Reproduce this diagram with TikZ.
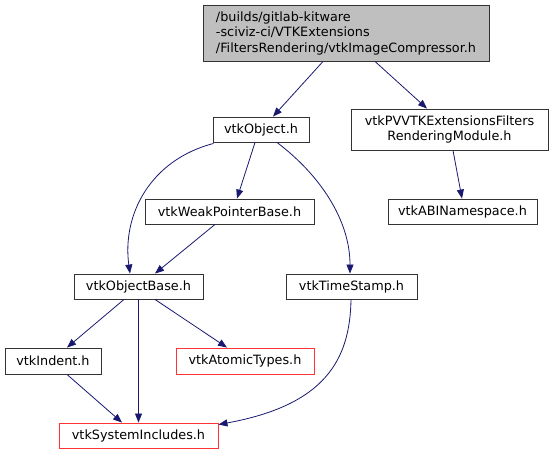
\documentclass[tikz,border=0pt]{standalone}
\usepackage{fontspec}
\setmainfont{DejaVu Sans}
\usetikzlibrary{arrows.meta}
\definecolor{edgeblue}{HTML}{191970}
\definecolor{redborder}{HTML}{FF3333}
\definecolor{topfill}{HTML}{BFBFBF}
\begin{document}
\begin{tikzpicture}[x=1pt,y=-1pt,
  box/.style={draw=black!80, line width=0.9pt, rectangle, inner sep=0pt, font=\fontsize{12.8}{15.5}\selectfont, align=center},
  redbox/.style={box, draw=redborder},
  edge/.style={draw=edgeblue, line width=0.8pt, -{Triangle[length=9pt,width=7pt]}}]
\useasboundingbox (0,0) rectangle (553,455);
\node[box, fill=topfill, align=left, minimum width=286pt, minimum height=56pt] (top) at (346,33) {/builds/gitlab-kitware\\-sciviz-ci/VTKExtensions\\/FiltersRendering/vtkImageCompressor.h};
\node[box, minimum width=96pt, minimum height=25pt] (obj) at (261,129.5) {vtkObject.h};
\node[box, minimum width=197pt, minimum height=41pt] (pv) at (449.5,129.5) {vtkPVVTKExtensionsFilters\\RenderingModule.h};
\node[box, minimum width=169pt, minimum height=25pt] (weak) at (229.5,211.5) {vtkWeakPointerBase.h};
\node[box, minimum width=149pt, minimum height=25pt] (abi) at (462.5,211.5) {vtkABINamespace.h};
\node[box, minimum width=129pt, minimum height=25pt] (ob) at (138.5,286.5) {vtkObjectBase.h};
\node[box, minimum width=131pt, minimum height=25pt] (ts) at (351.5,286.5) {vtkTimeStamp.h};
\node[box, minimum width=96pt, minimum height=26pt] (ind) at (53,361) {vtkIndent.h};
\node[redbox, minimum width=138pt, minimum height=26pt] (atom) at (245,361) {vtkAtomicTypes.h};
\node[redbox, minimum width=159pt, minimum height=25pt] (sys) at (138.5,435.5) {vtkSystemIncludes.h};

\draw[edge] ([xshift=-23pt]top.south) -- ([xshift=12pt]obj.north);
\draw[edge] ([xshift=29pt]top.south) -- ([xshift=-22.5pt]pv.north);
\draw[edge] ([xshift=-6pt]obj.south) -- ([xshift=7.5pt]weak.north);
\draw[edge] ([xshift=1pt,yshift=-1pt]obj.south west) .. controls (150,160) and (122,215) .. ([xshift=-8.5pt]ob.north);
\draw[edge] ([xshift=16pt]obj.south) .. controls (320,175) and (350,220) .. ([xshift=-1.5pt]ts.north);
\draw[edge] ([xshift=-14.5pt]weak.south) -- ([xshift=16.5pt]ob.north);
\draw[edge] ([xshift=3.5pt]pv.south) -- ([xshift=-0.5pt]abi.north);
\draw[edge] ([xshift=-14.5pt]ob.south) -- ([xshift=14pt]ind.north);
\draw[edge] (ob.south) -- (sys.north);
\draw[edge] ([xshift=16.5pt]ob.south) -- ([xshift=-18pt]atom.north);
\draw[edge] ([xshift=14pt]ind.south) -- ([xshift=-16.5pt]sys.north);
\draw[edge] ([xshift=-0.5pt]ts.south) .. controls (350,360) and (325,405) .. ([yshift=-2pt]sys.north east);
\end{tikzpicture}
\end{document}
